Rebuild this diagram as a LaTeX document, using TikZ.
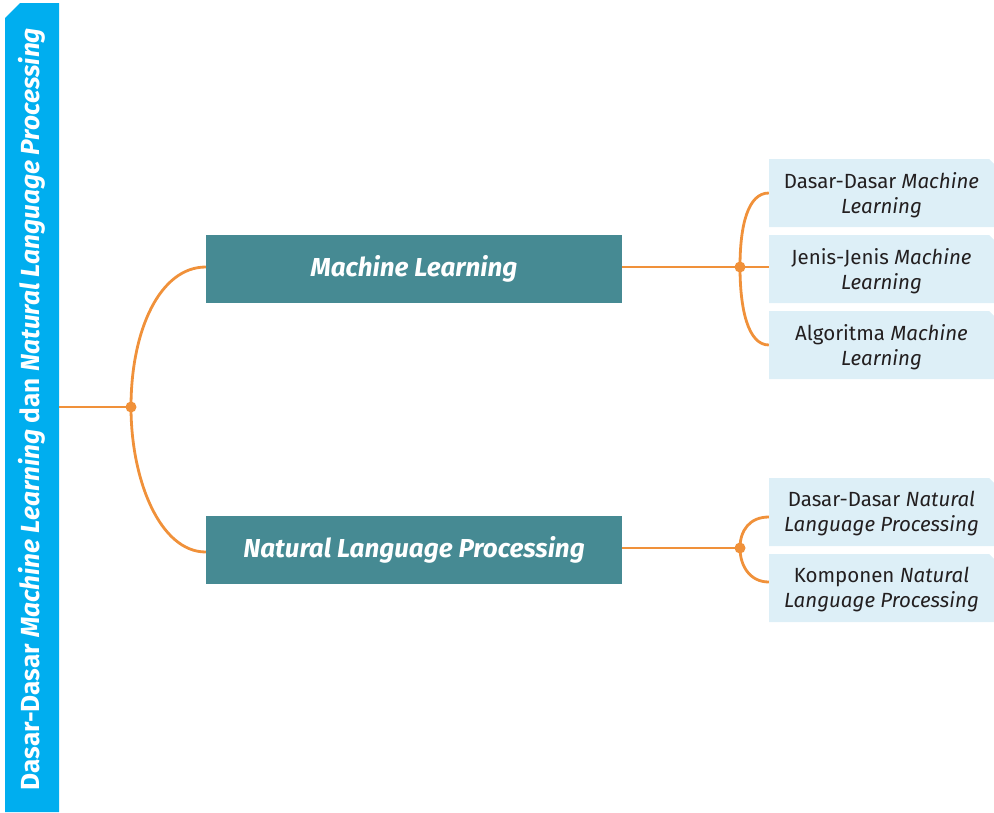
\documentclass[tikz,border=0pt]{standalone}
\usepackage{fontspec}
\setmainfont{Fira Sans}
\usepackage{graphicx}
\definecolor{barblue}{HTML}{00AEEF}
\definecolor{teal}{HTML}{468A93}
\definecolor{lightbox}{HTML}{DDEFF7}
\definecolor{orng}{HTML}{F0913A}
\definecolor{txt}{HTML}{231F20}
\begin{document}
\begin{tikzpicture}[x=1pt,y=-1pt,
  mainbox/.style={fill=teal, inner sep=0pt, minimum width=416pt, minimum height=68pt, text=white, font=\fontsize{26}{30}\selectfont\bfseries\itshape},
  subbox/.style={inner sep=0pt, minimum width=225pt, minimum height=68pt, text=txt, align=center, font=\fontsize{20.5}{25}\selectfont},
  link/.style={draw=orng, line width=2.8pt},
  dot/.style={circle, fill=orng, inner sep=0pt, minimum size=11pt}]
\useasboundingbox (0,0) rectangle (994,812);
% left bar
\fill[barblue] (5,812) -- (5,18) -- (20,3) -- (59,3) -- (59,812) -- cycle;
\node[rotate=90, text=white, inner sep=0pt] (title) at (32,409)
  {\resizebox{762pt}{!}{\bfseries Dasar-Dasar \textit{Machine Learning} dan \textit{Natural Language Processing}}};
\coordinate (barR) at (59,407);
% main boxes
\node[mainbox] (ml) at (414,269) {Machine Learning};
\node[mainbox] (nlp) at (414,550) {Natural Language Processing};
% sub boxes with chamfer
\foreach \n/\y/\t in {s1/193/{Dasar-Dasar \textit{Machine}\\\textit{Learning}},
                      s2/269/{Jenis-Jenis \textit{Machine}\\\textit{Learning}},
                      s3/345/{Algoritma \textit{Machine}\\\textit{Learning}},
                      s4/512/{Dasar-Dasar \textit{Natural}\\\textit{Language Processing}},
                      s5/588/{Komponen \textit{Natural}\\\textit{Language Processing}}}{
  \fill[lightbox] (769,\y-34) -- (989,\y-34) -- (994,\y-29) -- (994,\y+34) -- (769,\y+34) -- cycle;
  \node[subbox] (\n) at (881.5,\y+2) {\t};
}
% dots
\node[dot] (d0) at (131,407) {};
\node[dot] (d1) at (740,267) {};
\node[dot] (d2) at (740,548) {};
% connectors
\draw[link] (barR) -- (d0.center);
\draw[link] (d0.center) .. controls (131,330) and (160,267) .. (ml.west |- 0,267);
\draw[link] (d0.center) .. controls (131,480) and (160,552) .. (nlp.west |- 0,552);
\draw[link] (ml.east |- 0,267) -- (d1.center);
\draw[link] (d1.center) -- (s2.west |- 0,267);
\draw[link] (d1.center) .. controls (740,225) and (748,193) .. (s1.west |- 0,193);
\draw[link] (d1.center) .. controls (740,309) and (748,345) .. (s3.west |- 0,345);
\draw[link] (nlp.east |- 0,548) -- (d2.center);
\draw[link] (d2.center) .. controls (740,530) and (750,517) .. (s4.west |- 0,517);
\draw[link] (d2.center) .. controls (740,566) and (750,582) .. (s5.west |- 0,582);
\end{tikzpicture}
\end{document}
